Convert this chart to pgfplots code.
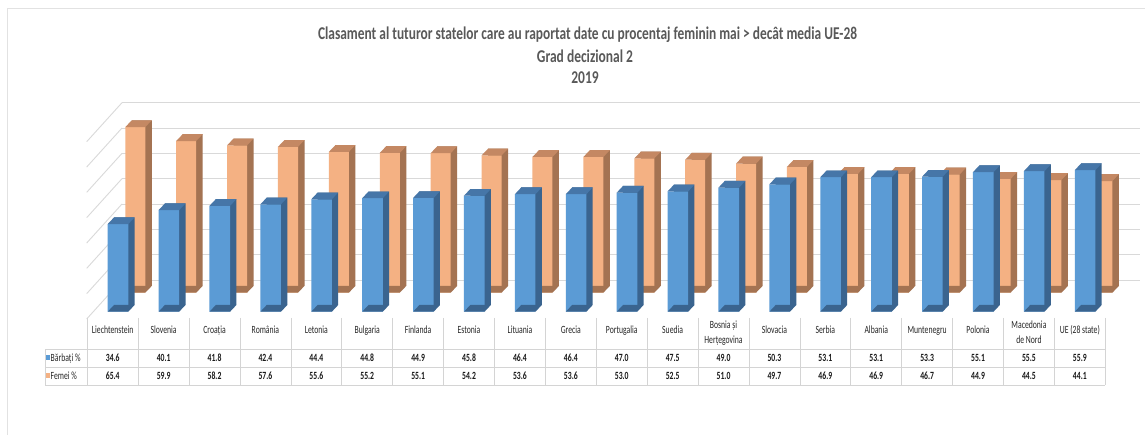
\documentclass[border=0pt]{standalone}
\usepackage{pgfplots}
\pgfplotsset{compat=1.18}
\usepackage{pgfplotstable}
\usepackage{graphicx}
\usepackage{fontspec}
\setmainfont{Carlito}

\definecolor{bfront}{HTML}{5B9BD5}
\definecolor{btop}{HTML}{4676A8}
\definecolor{bside}{HTML}{3A648F}
\definecolor{ofront}{HTML}{F4B183}
\definecolor{otop}{HTML}{C48863}
\definecolor{oside}{HTML}{A47352}
\definecolor{gridc}{HTML}{D9D9D9}
\definecolor{tabc}{HTML}{D4D4D4}
\definecolor{bordc}{HTML}{E2E2E2}
\definecolor{titc}{HTML}{595959}

\pgfdeclareplotmark{topB}{%
  \pgfpathmoveto{\pgfqpoint{-10.3pt}{0pt}}%
  \pgfpathlineto{\pgfqpoint{10.3pt}{0pt}}%
  \pgfpathlineto{\pgfqpoint{16.6pt}{6.7pt}}%
  \pgfpathlineto{\pgfqpoint{-4pt}{6.7pt}}%
  \pgfpathclose\pgfusepathqfill}
\pgfdeclareplotmark{topO}{%
  \pgfpathmoveto{\pgfqpoint{-10pt}{0pt}}%
  \pgfpathlineto{\pgfqpoint{10pt}{0pt}}%
  \pgfpathlineto{\pgfqpoint{16.5pt}{6.8pt}}%
  \pgfpathlineto{\pgfqpoint{-3.5pt}{6.8pt}}%
  \pgfpathclose\pgfusepathqfill}

\pgfplotstableread{
i b f
0 34.6 65.4
1 40.1 59.9
2 41.8 58.2
3 42.4 57.6
4 44.4 55.6
5 44.8 55.2
6 44.9 55.1
7 45.8 54.2
8 46.4 53.6
9 46.4 53.6
10 47.0 53.0
11 47.5 52.5
12 49.0 51.0
13 50.3 49.7
14 53.1 46.9
15 53.1 46.9
16 53.3 46.7
17 55.1 44.9
18 55.5 44.5
19 55.9 44.1
}\data

\pgfplotsset{
  bars3d/.style={scale only axis, width=1018pt, height=202.6pt,
    xmin=-0.5, xmax=19.5, ymin=0, ymax=80, hide axis, clip=false,
    anchor=south west},
}

\newcommand\tx[1]{\scalebox{0.7}[1]{#1}}
\newcommand\tfont{\fontsize{11}{13}\selectfont}

\begin{document}
\begin{tikzpicture}[x=1pt,y=1pt]
\useasboundingbox (0,0) rectangle (1145,435);
\fill[white] (0,0) rectangle (1145,435);
\draw[bordc, line width=0.8pt] (7.3,-5) -- (7.3,426.7) -- (1150,426.7);

% title
\node[anchor=base, text=titc, font=\fontsize{18}{20}\selectfont\bfseries] at (587.5,395.5)
  {\resizebox{539pt}{\height}{Clasament al tuturor statelor care au raportat date cu procentaj feminin mai > decât media UE-28}};
\node[anchor=base, text=titc, font=\fontsize{18}{20}\selectfont\bfseries] at (585,372.5)
  {\scalebox{0.75}[1]{Grad decizional 2}};
\node[anchor=base, text=titc, font=\fontsize{18}{20}\selectfont\bfseries] at (585,351.5)
  {\scalebox{0.75}[1]{2019}};

% back wall
\begin{axis}[scale only axis, width=1018pt, height=202.6pt, xmin=0, xmax=1,
  ymin=0, ymax=80, at={(122pt,129.7pt)}, anchor=south west,
  ytick={10,20,...,80}, xtick=\empty, yticklabels={},
  ymajorgrids, grid style={gridc, line width=0.9pt},
  axis line style={draw=none}, major tick length=0pt]
\addplot[draw=none] coordinates {(0,0)};
\end{axis}
% side wall
\foreach \v in {10,20,...,80}
  \draw[gridc, line width=0.9pt] (86.7,{129.7+2.5325*\v-39}) -- (122,{129.7+2.5325*\v});

% orange side
\begin{axis}[bars3d, at={(116.35pt,149.1pt)}]
\addplot[ybar, bar shift=0pt, bar width=20pt, fill=oside, draw=none] table[x=i,y=f]{\data};
\end{axis}
% orange front + top
\begin{axis}[bars3d, at={(109.85pt,142.3pt)}]
\addplot[only marks, mark=topO, mark options={fill=oside, draw=none}] table[x=i,y expr=0]{\data};
\addplot[ybar, bar shift=0pt, bar width=20pt, fill=ofront, draw=none] table[x=i,y=f]{\data};
\addplot[only marks, mark=topO, mark options={fill=otop, draw=none}] table[x=i,y=f]{\data};
\end{axis}
% blue side
\begin{axis}[bars3d, at={(98.85pt,130pt)}]
\addplot[ybar, bar shift=0pt, bar width=20.6pt, fill=bside, draw=none] table[x=i,y=b]{\data};
\end{axis}
% blue front + top
\begin{axis}[bars3d, at={(92.55pt,123.3pt)}]
\addplot[only marks, mark=topB, mark options={fill=bside, draw=none}] table[x=i,y expr=0]{\data};
\addplot[ybar, bar shift=0pt, bar width=20.6pt, fill=bfront, draw=none] table[x=i,y=b]{\data};
\addplot[only marks, mark=topB, mark options={fill=btop, draw=none}] table[x=i,y=b]{\data};
\end{axis}

% data table
\begin{scope}[draw=tabc, line width=0.8pt]
\foreach \k in {0,...,20}
  \draw ({87.3+50.9*\k},117) -- ({87.3+50.9*\k},49.7);
\draw (45,49.7) -- (45,85.7);
\foreach \yy in {85.7,67.7,49.7}
  \draw (45,\yy) -- (1105.3,\yy);
\end{scope}

\foreach \n [count=\k from 0] in {Liechtenstein,Slovenia,Croația,România,Letonia,Bulgaria,Finlanda,Estonia,Lituania,Grecia,Portugalia,Suedia,{},Slovacia,Serbia,Albania,Muntenegru,Polonia,{},{UE (28 state)}}
  \node[anchor=base, inner sep=0pt, font=\tfont, text=black!85] at ({112.75+50.9*\k},101.7) {\tx{\n}};
\node[anchor=base, inner sep=0pt, font=\tfont, text=black!85] at (723.55,106) {\tx{Bosnia și}};
\node[anchor=base, inner sep=0pt, font=\tfont, text=black!85] at (723.55,91) {\tx{Herțegovina}};
\node[anchor=base, inner sep=0pt, font=\tfont, text=black!85] at (1028.95,106) {\tx{Macedonia}};
\node[anchor=base, inner sep=0pt, font=\tfont, text=black!85] at (1028.95,91) {\tx{de Nord}};

\foreach \v [count=\k from 0] in {34.6,40.1,41.8,42.4,44.4,44.8,44.9,45.8,46.4,46.4,47.0,47.5,49.0,50.3,53.1,53.1,53.3,55.1,55.5,55.9}
  \node[anchor=base, inner sep=0pt, font=\tfont\bfseries, text=black!90] at ({112.75+50.9*\k},73.3) {\tx{\v}};
\foreach \v [count=\k from 0] in {65.4,59.9,58.2,57.6,55.6,55.2,55.1,54.2,53.6,53.6,53.0,52.5,51.0,49.7,46.9,46.9,46.7,44.9,44.5,44.1}
  \node[anchor=base, inner sep=0pt, font=\tfont\bfseries, text=black!90] at ({112.75+50.9*\k},55.3) {\tx{\v}};

% legend keys
\fill[bfront] (45.7,75) rectangle (50,79.7);
\fill[ofront] (45.7,56.7) rectangle (50,61.7);
\node[anchor=base west, inner sep=0pt, font=\tfont, text=black!85] at (50.5,73.3) {\tx{Bărbați \%}};
\node[anchor=base west, inner sep=0pt, font=\tfont, text=black!85] at (50.5,55.3) {\tx{Femei \%}};
\end{tikzpicture}
\end{document}
